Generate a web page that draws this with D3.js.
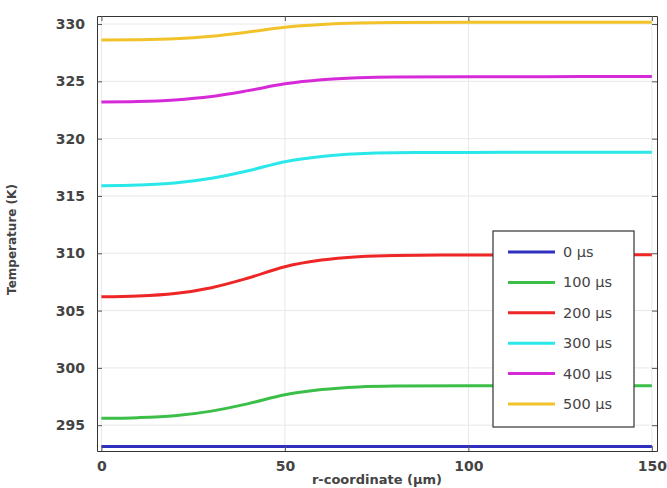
<!DOCTYPE html>
<html>
<head>
<meta charset="utf-8">
<script src="https://cdn.jsdelivr.net/npm/d3@7"></script>
<style>
  body { margin: 0; background: #fff; }
  text { font-family: "DejaVu Sans", sans-serif; }
</style>
</head>
<body>
<svg id="chart" width="667" height="488"></svg>
<script>
const width = 667;
const height = 488;

// r-coordinate samples (µm)
const rCoord = [0, 10, 20, 30, 40, 50, 60, 70, 80, 100, 120, 150];

// temperature (K) per time step
const t0 = [293.15, 293.15, 293.15, 293.15, 293.15, 293.15, 293.15, 293.15, 293.15, 293.15, 293.15, 293.15];
const t100 = [295.60, 295.66, 295.83, 296.23, 296.88, 297.65, 298.11, 298.34, 298.42, 298.45, 298.45, 298.45];
const t200 = [306.20, 306.27, 306.49, 307.00, 307.84, 308.83, 309.41, 309.70, 309.81, 309.85, 309.86, 309.87];
const t300 = [315.90, 315.96, 316.13, 316.54, 317.20, 317.99, 318.45, 318.68, 318.77, 318.80, 318.81, 318.82];
const t400 = [323.20, 323.24, 323.38, 323.68, 324.19, 324.78, 325.14, 325.31, 325.38, 325.40, 325.41, 325.42];
const t500 = [328.60, 328.63, 328.72, 328.94, 329.30, 329.72, 329.96, 330.09, 330.13, 330.15, 330.16, 330.16];

const labels = ["0 µs", "100 µs", "200 µs", "300 µs", "400 µs", "500 µs"];
const colors = ["#3030c0", "#3cbf48", "#ee2626", "#2ae8ea", "#d62ad8", "#f2c22a"];
const xTicks = [0, 50, 100, 150];
const yTicks = [295, 300, 305, 310, 315, 320, 325, 330];

const series = [t0, t100, t200, t300, t400, t500].map((vals, i) => ({
  name: labels[i],
  color: colors[i],
  points: vals.map((v, j) => [rCoord[j], v])
}));

const margin = { top: 16, right: 10, bottom: 37, left: 97 };
const innerW = width - margin.left - margin.right;
const innerH = height - margin.top - margin.bottom;

const svg = d3.select("#chart");
const g = svg.append("g").attr("transform", `translate(${margin.left},${margin.top})`);

const x = d3.scaleLinear().domain([-1.2, 151.4]).range([0, innerW]);
const y = d3.scaleLinear().domain([292.75, 330.7]).range([innerH, 0]);

// grid
g.append("g")
  .selectAll("line")
  .data(xTicks)
  .enter()
  .append("line")
  .attr("x1", d => x(d)).attr("x2", d => x(d))
  .attr("y1", 0).attr("y2", innerH)
  .attr("stroke", "#e8e8e8");

g.append("g")
  .selectAll("line")
  .data(yTicks)
  .enter()
  .append("line")
  .attr("x1", 0).attr("x2", innerW)
  .attr("y1", d => y(d)).attr("y2", d => y(d))
  .attr("stroke", "#e8e8e8");

// lines
const line = d3.line()
  .x(d => x(d[0]))
  .y(d => y(d[1]))
  .curve(d3.curveMonotoneX);

g.append("g")
  .selectAll("path")
  .data(series)
  .enter()
  .append("path")
  .attr("d", d => line(d.points))
  .attr("fill", "none")
  .attr("stroke", d => d.color)
  .attr("stroke-width", 3);

// axes (ticks pointing inward, mirrored on top/right)
const styleAxis = sel => {
  sel.select(".domain").attr("stroke", "#333");
  sel.selectAll(".tick line").attr("stroke", "#555");
  sel.selectAll(".tick text")
    .attr("fill", "#444")
    .style("font-size", "14px")
    .style("font-weight", "bold");
};

g.append("g")
  .attr("transform", `translate(0,${innerH})`)
  .call(d3.axisBottom(x).tickValues(xTicks).tickSizeInner(-5).tickSizeOuter(0).tickPadding(10))
  .call(styleAxis);

g.append("g")
  .call(d3.axisLeft(y).tickValues(yTicks).tickSizeInner(-5).tickSizeOuter(0).tickPadding(12))
  .call(styleAxis);

g.append("g")
  .call(d3.axisTop(x).tickValues(xTicks).tickSizeInner(-5).tickSizeOuter(0).tickFormat(""))
  .call(styleAxis);

g.append("g")
  .attr("transform", `translate(${innerW},0)`)
  .call(d3.axisRight(y).tickValues(yTicks).tickSizeInner(-5).tickSizeOuter(0).tickFormat(""))
  .call(styleAxis);

// axis titles
svg.append("text")
  .attr("x", margin.left + innerW / 2)
  .attr("y", 484)
  .attr("text-anchor", "middle")
  .attr("fill", "#444")
  .style("font-size", "13px")
  .style("font-weight", "bold")
  .text("r-coordinate (µm)");

svg.append("text")
  .attr("transform", `translate(16,${margin.top + innerH / 2 + 6}) rotate(-90)`)
  .attr("text-anchor", "middle")
  .attr("fill", "#444")
  .style("font-size", "12px")
  .style("font-weight", "bold")
  .text("Temperature (K)");

// legend
const legend = svg.append("g").attr("transform", "translate(493,231)");
legend.append("rect")
  .attr("width", 141).attr("height", 196)
  .attr("fill", "#fff")
  .attr("stroke", "#333")
  .attr("stroke-width", 1.2);

const item = legend.selectAll(".item")
  .data(series)
  .enter()
  .append("g")
  .attr("transform", (d, i) => `translate(0,${21 + i * 30.4})`);

item.append("line")
  .attr("x1", 15).attr("x2", 62)
  .attr("stroke", d => d.color)
  .attr("stroke-width", 3);

item.append("text")
  .attr("x", 70)
  .attr("dy", "0.35em")
  .attr("fill", "#444")
  .style("font-size", "14.5px")
  .text(d => d.name);
</script>
</body>
</html>
